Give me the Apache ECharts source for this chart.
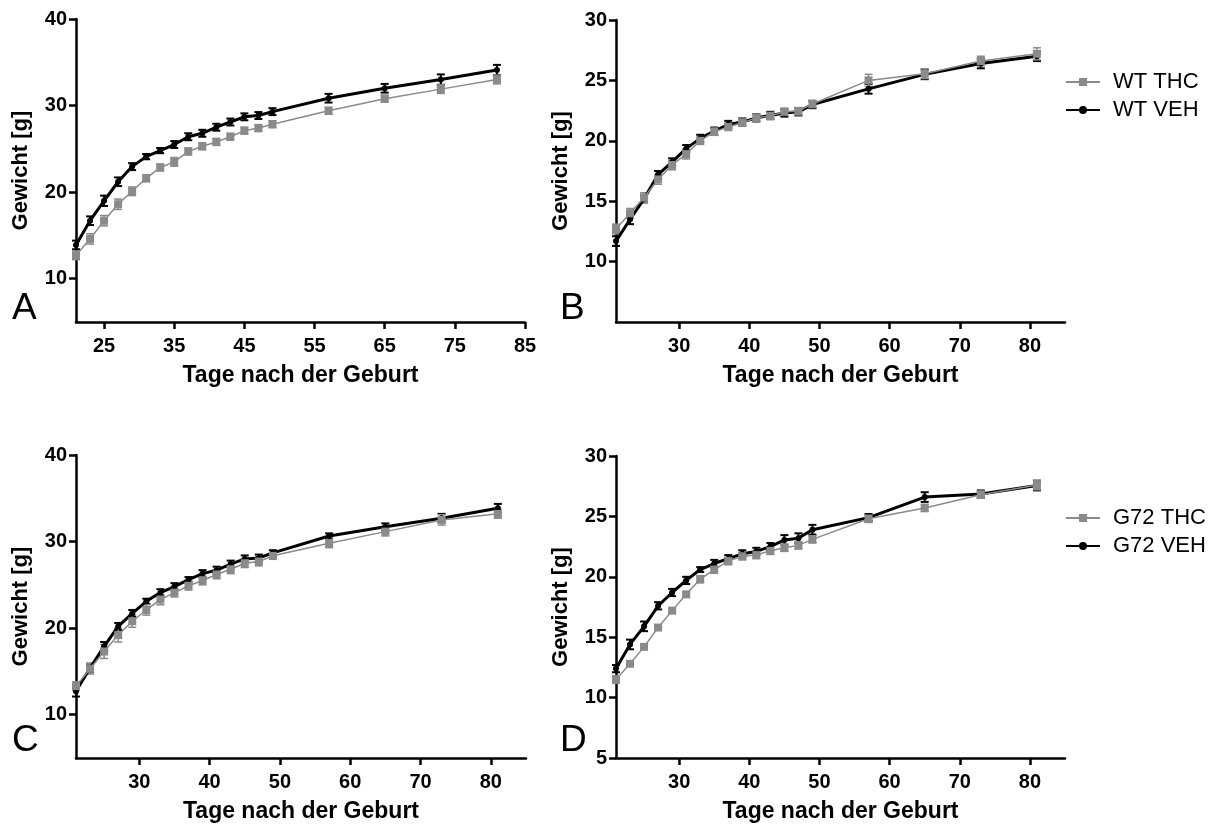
<!DOCTYPE html>
<html>
<head>
<meta charset="utf-8">
<script src="https://cdn.jsdelivr.net/npm/echarts@6/dist/echarts.min.js"></script>
<style>
  html, body { margin: 0; padding: 0; background: #fff; }
  #container { width: 1215px; height: 825px; }
</style>
</head>
<body>
<div id="container"></div>
<script>
// Tage nach der Geburt
var days = [21, 23, 25, 27, 29, 31, 33, 35, 37, 39, 41, 43, 45, 47, 49, 57, 65, 73, 81];

// A: WT, Gewicht [g]
var wtThcA = [12.7, 14.6, 16.7, 18.6, 20.1, 21.6, 22.85, 23.5, 24.7, 25.3, 25.8, 26.4, 27.1, 27.4, 27.85, 29.4, 30.8, 31.9, 33.0];
var wtThcAErr = [0.5, 0.6, 0.6, 0.6, 0.5, 0.4, 0.4, 0.5, 0.4, 0.4, 0.4, 0.4, 0.4, 0.4, 0.4, 0.4, 0.4, 0.5, 0.5];
var wtVehA = [13.9, 16.7, 19.0, 21.2, 22.95, 24.1, 24.8, 25.5, 26.4, 26.8, 27.5, 28.1, 28.7, 28.85, 29.3, 30.85, 32.0, 33.0, 34.1];
var wtVehAErr = [0.5, 0.5, 0.6, 0.5, 0.4, 0.3, 0.3, 0.4, 0.4, 0.4, 0.4, 0.4, 0.4, 0.4, 0.4, 0.5, 0.5, 0.6, 0.6];

// B: WT
var wtThcB = [12.7, 14.0, 15.3, 16.8, 18.0, 18.9, 20.0, 20.75, 21.15, 21.5, 21.9, 22.05, 22.4, 22.45, 23.05, 25.0, 25.55, 26.6, 27.2];
var wtThcBErr = [0.4, 0.4, 0.4, 0.4, 0.4, 0.4, 0.3, 0.3, 0.3, 0.3, 0.3, 0.3, 0.3, 0.3, 0.3, 0.5, 0.4, 0.4, 0.5];
var wtVehB = [11.7, 13.5, 15.2, 17.2, 18.25, 19.35, 20.2, 20.8, 21.35, 21.55, 21.9, 22.1, 22.3, 22.4, 23.0, 24.3, 25.5, 26.4, 27.0];
var wtVehBErr = [0.4, 0.4, 0.3, 0.3, 0.3, 0.3, 0.3, 0.3, 0.3, 0.3, 0.3, 0.3, 0.3, 0.3, 0.3, 0.4, 0.4, 0.4, 0.4];

// C: G72
var g72ThcC = [13.3, 15.3, 17.3, 19.2, 20.8, 22.1, 23.3, 24.1, 24.9, 25.5, 26.2, 26.8, 27.5, 27.7, 28.35, 29.8, 31.15, 32.5, 33.2];
var g72ThcCErr = [0.5, 0.6, 0.8, 0.8, 0.7, 0.6, 0.6, 0.5, 0.5, 0.5, 0.5, 0.5, 0.5, 0.5, 0.4, 0.5, 0.5, 0.6, 0.5];
var g72VehC = [12.7, 15.4, 17.9, 20.2, 21.7, 23.1, 24.1, 24.8, 25.6, 26.3, 26.7, 27.4, 28.0, 28.1, 28.7, 30.65, 31.7, 32.7, 33.85];
var g72VehCErr = [0.6, 0.5, 0.5, 0.4, 0.4, 0.3, 0.4, 0.4, 0.3, 0.4, 0.4, 0.4, 0.4, 0.4, 0.3, 0.3, 0.4, 0.5, 0.5];

// D: G72
var g72ThcD = [11.5, 12.8, 14.2, 15.8, 17.2, 18.55, 19.8, 20.6, 21.3, 21.7, 21.8, 22.15, 22.4, 22.6, 23.1, 24.8, 25.7, 26.8, 27.6];
var g72ThcDErr = [0.3, 0.2, 0.2, 0.2, 0.2, 0.2, 0.3, 0.3, 0.3, 0.3, 0.3, 0.3, 0.3, 0.3, 0.3, 0.3, 0.3, 0.3, 0.4];
var g72VehD = [12.4, 14.4, 15.9, 17.6, 18.7, 19.7, 20.6, 21.1, 21.5, 21.9, 22.1, 22.5, 23.05, 23.2, 23.9, 24.9, 26.6, 26.85, 27.55];
var g72VehDErr = [0.3, 0.4, 0.4, 0.3, 0.3, 0.3, 0.2, 0.3, 0.3, 0.3, 0.3, 0.3, 0.4, 0.4, 0.4, 0.3, 0.4, 0.3, 0.4];

// tick labels
var xTicksA = [25, 35, 45, 55, 65, 75, 85];
var xTicks = [30, 40, 50, 60, 70, 80];
var yTicks40 = [10, 20, 30, 40];
var yTicksB = [10, 15, 20, 25, 30];
var yTicksD = [5, 10, 15, 20, 25, 30];

var font = '"Liberation Sans", Arial, Helvetica, sans-serif';
var gray = '#8a8a8a';

function pairs(ys, errs) {
  return days.map(function (d, i) { return errs ? [d, ys[i], errs[i]] : [d, ys[i]]; });
}

function xAxis(idx, ticks) {
  return {
    type: 'value', gridIndex: idx, min: 21, max: 85,
    name: 'Tage nach der Geburt', nameLocation: 'middle', nameGap: 42,
    nameTextStyle: { fontFamily: font, fontWeight: 'bold', fontSize: 23, color: '#000' },
    splitLine: { show: false },
    axisLine: { lineStyle: { color: '#000', width: 2.5 } },
    axisTick: { length: 7, lineStyle: { color: '#000', width: 2.5 }, customValues: ticks },
    axisLabel: { margin: 14, fontFamily: font, fontWeight: 'bold', fontSize: 20, color: '#000', customValues: ticks }
  };
}

function yAxis(idx, max, ticks) {
  return {
    type: 'value', gridIndex: idx, min: 5, max: max,
    name: 'Gewicht [g]', nameLocation: 'middle', nameGap: 44,
    nameTextStyle: { fontFamily: font, fontWeight: 'bold', fontSize: 22, color: '#000' },
    splitLine: { show: false },
    axisLine: { lineStyle: { color: '#000', width: 2.5 } },
    axisTick: { length: 7, lineStyle: { color: '#000', width: 2.5 }, customValues: ticks },
    axisLabel: { margin: 9, fontFamily: font, fontWeight: 'bold', fontSize: 20, color: '#000', customValues: ticks }
  };
}

function errSeries(name, idx, ys, errs, color, w) {
  return {
    type: 'custom', name: name, xAxisIndex: idx, yAxisIndex: idx, silent: true,
    data: pairs(ys, errs), encode: { x: 0, y: 1 }, z: 3,
    renderItem: function (params, api) {
      var x = api.value(0), y = api.value(1), e = api.value(2);
      var t = api.coord([x, y + e]);
      var b = api.coord([x, y - e]);
      var hw = 4;
      var st = { stroke: color, lineWidth: w };
      return {
        type: 'group', children: [
          { type: 'line', shape: { x1: t[0], y1: t[1], x2: b[0], y2: b[1] }, style: st },
          { type: 'line', shape: { x1: t[0] - hw, y1: t[1], x2: t[0] + hw, y2: t[1] }, style: st },
          { type: 'line', shape: { x1: b[0] - hw, y1: b[1], x2: b[0] + hw, y2: b[1] }, style: st }
        ]
      };
    }
  };
}

function vehLine(name, idx, ys) {
  return {
    type: 'line', name: name, xAxisIndex: idx, yAxisIndex: idx, data: pairs(ys),
    symbol: 'circle', symbolSize: 6, z: 4,
    lineStyle: { color: '#000', width: 3 }, itemStyle: { color: '#000' }
  };
}

function thcLine(name, idx, ys) {
  return {
    type: 'line', name: name, xAxisIndex: idx, yAxisIndex: idx, data: pairs(ys),
    symbol: 'rect', symbolSize: 8, z: 5,
    lineStyle: { color: gray, width: 1.5 }, itemStyle: { color: gray }
  };
}

function legend(names, top) {
  return {
    data: names, orient: 'vertical', left: 1060, top: top,
    itemWidth: 34, itemHeight: 10, itemGap: 6,
    textStyle: { fontFamily: font, fontSize: 22, color: '#000', padding: [0, 0, 0, 8] }
  };
}

function letter(t, x, y) {
  return { type: 'text', left: x, top: y, style: { text: t, fontFamily: font, fontSize: 37, fill: '#000' } };
}

var dom = document.getElementById('container');
var myChart = echarts.init(dom);
var option = {
  animation: false,
  backgroundColor: '#fff',
  grid: [
    { left: 76, top: 19, width: 449, height: 303 },
    { left: 616, top: 20, width: 449, height: 302 },
    { left: 76, top: 455, width: 450, height: 303 },
    { left: 616, top: 456, width: 449, height: 302 }
  ],
  xAxis: [xAxis(0, xTicksA), xAxis(1, xTicks), xAxis(2, xTicks), xAxis(3, xTicks)],
  yAxis: [yAxis(0, 40, yTicks40), yAxis(1, 30, yTicksB), yAxis(2, 40, yTicks40), yAxis(3, 30, yTicksD)],
  legend: [legend(['WT THC', 'WT VEH'], 66), legend(['G72 THC', 'G72 VEH'], 502)],
  graphic: [letter('A', 12, 290), letter('B', 560, 290), letter('C', 12, 722), letter('D', 560, 722)],
  series: [
    errSeries('eA1', 0, wtVehA, wtVehAErr, '#000', 2),
    vehLine('WT VEH', 0, wtVehA),
    errSeries('eA2', 0, wtThcA, wtThcAErr, gray, 1.5),
    thcLine('WT THC', 0, wtThcA),

    errSeries('eB1', 1, wtVehB, wtVehBErr, '#000', 2),
    vehLine('WT VEH', 1, wtVehB),
    errSeries('eB2', 1, wtThcB, wtThcBErr, gray, 1.5),
    thcLine('WT THC', 1, wtThcB),

    errSeries('eC1', 2, g72VehC, g72VehCErr, '#000', 2),
    vehLine('G72 VEH', 2, g72VehC),
    errSeries('eC2', 2, g72ThcC, g72ThcCErr, gray, 1.5),
    thcLine('G72 THC', 2, g72ThcC),

    errSeries('eD1', 3, g72VehD, g72VehDErr, '#000', 2),
    vehLine('G72 VEH', 3, g72VehD),
    errSeries('eD2', 3, g72ThcD, g72ThcDErr, gray, 1.5),
    thcLine('G72 THC', 3, g72ThcD)
  ]
};
myChart.setOption(option, true);
</script>
</body>
</html>
